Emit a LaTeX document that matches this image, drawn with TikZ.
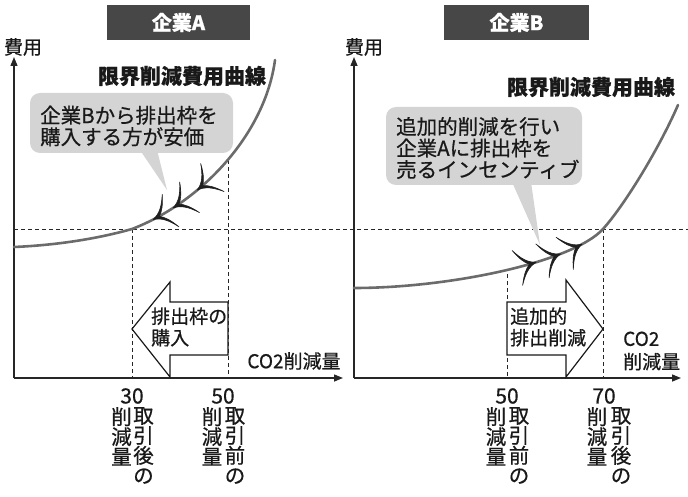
\documentclass[tikz,border=0pt]{standalone}
\usepackage{fontspec}
\setmainfont{Noto Sans CJK JP}[FakeBold=0.6]
\usetikzlibrary{arrows.meta,decorations.markings}
\begin{document}
\begin{tikzpicture}[x=1pt,y=-1pt,
  axis/.style={line width=1.4pt, draw=black!85, -{Triangle[length=9pt,width=7pt]}},
  guide/.style={dash pattern=on 4pt off 3pt, line width=0.9pt, draw=black!85},
  mac/.style={line width=2.6pt, draw=black!58, line cap=round},
  titlebox/.style={fill=black!72, text=white, font=\fontsize{20}{22}\selectfont\bfseries, minimum height=35pt, inner sep=0pt},
  curvelabel/.style={font=\fontsize{21}{22}\selectfont\bfseries, inner sep=0pt, text=black!90},
  callout/.style={fill=black!17, rounded corners=10pt, inner sep=0pt},
  calltext/.style={font=\fontsize{20.5}{21.5}\selectfont, align=left, inner sep=0pt, text=black!90},
  blockarrow/.style={line width=1.2pt, draw=black!90, fill=white, line join=miter},
  arrtext/.style={font=\fontsize{19}{21.5}\selectfont, align=left, inner sep=0pt, text=black!90},
  lbl/.style={font=\fontsize{19}{23}\selectfont, inner sep=0pt, text=black!90},
  ticklbl/.style={font=\fontsize{21}{21}\selectfont, inner sep=0pt, text=black!90},
  vcol/.style={font=\fontsize{20.5}{20}\selectfont, align=center, inner sep=0pt, anchor=north, text=black!90},
  barbfill/.style={fill=black!88, draw=black!88, line width=0.6pt, line join=round, scale=1.4}
]
\useasboundingbox (0,0) rectangle (688,497);
\def\barbfwd{\filldraw[barbfill] (0,0) .. controls (-6,1.5) and (-10,6) .. (-14,13)
   .. controls (-11,6) and (-8,2) .. (-5,0)
   .. controls (-8,-2) and (-11,-6) .. (-14,-13)
   .. controls (-10,-6) and (-6,-1.5) .. (0,0) -- cycle;}
\def\barbrev{\filldraw[barbfill] (0,0) .. controls (6,1.5) and (10,6) .. (14,13)
   .. controls (11,6) and (8,2) .. (5,0)
   .. controls (8,-2) and (11,-6) .. (14,-13)
   .. controls (10,-6) and (6,-1.5) .. (0,0) -- cycle;}

% titles
\node[titlebox, minimum width=143pt] (tA) at (178.5,22.5) {企業A};
\node[titlebox, minimum width=145pt] (tB) at (516.5,22.5) {企業B};

% coordinates
\coordinate (oA) at (14,378);  \coordinate (yA) at (14,57);  \coordinate (xA) at (343,378);
\coordinate (oB) at (354,378); \coordinate (yB) at (354,57); \coordinate (xB) at (681,378);
\coordinate (hL) at (14,229);  \coordinate (hR) at (688,229);
\coordinate (a30t) at (132,229); \coordinate (a30b) at (132,378);
\coordinate (a50t) at (228,160); \coordinate (a50b) at (228,378);
\coordinate (b50t) at (507,274); \coordinate (b50b) at (507,378);
\coordinate (b70t) at (603,229); \coordinate (b70b) at (603,378);

% dashed guides
\draw[guide] (hL) -- (hR);
\draw[guide] (a30t) -- (a30b);
\draw[guide] (a50t) -- (a50b);
\draw[guide] (b50t) -- (b50b);
\draw[guide] (b70t) -- (b70b);

% axes
\draw[axis] (oA) -- (yA);
\draw[axis] (oA) -- (xA);
\draw[axis] (oB) -- (yB);
\draw[axis] (oB) -- (xB);

% block arrows
\draw[blockarrow] (228,302) -- (170,302) -- (170,282) -- (132,329) -- (170,377) -- (170,355) -- (228,355) -- cycle;
\draw[blockarrow] (507,302) -- (566,302) -- (566,280) -- (603,329) -- (566,377) -- (566,355) -- (507,355) -- cycle;
\node[arrtext, anchor=west] (pA) at (151,327) {排出枠の\\購入};
\node[arrtext, anchor=west] (pB) at (510,327) {追加的\\排出削減};

% curves
\draw[mac] (14,247) .. controls (60,245) and (100,238) .. (132,229)
  .. controls (200,203) and (265,135) .. (275,60);
\path[decorate, decoration={markings,
   mark=at position 0.1 with {\barbrev},
   mark=at position 0.2 with {\barbrev},
   mark=at position 0.33 with {\barbrev}}]
  (132,229) .. controls (200,203) and (265,135) .. (275,60);

\draw[mac] (354,288) .. controls (450,288) and (573,262) .. (603,229)
  .. controls (623,207) and (658,151) .. (678,105);
\path[decorate, decoration={markings,
   mark=at position 0.71 with {\barbfwd},
   mark=at position 0.81 with {\barbfwd},
   mark=at position 0.9 with {\barbfwd}}]
  (354,288) .. controls (450,288) and (573,262) .. (603,229);

% callouts
\fill[black!17] (140,150) -- (157,150) -- (167,190) -- cycle;
\node[callout, minimum width=203pt, minimum height=60pt] (bA) at (131.5,123) {};
\node[calltext, anchor=west] (cA) at (40,126) {企業Bから排出枠を\\購入する方が安価};

\fill[black!17] (512,182) -- (531,182) -- (540,245) -- cycle;
\node[callout, minimum width=196pt, minimum height=78pt] (bB) at (484,146) {};
\node[calltext, anchor=west] (cB) at (396,148) {追加的削減を行い\\企業Aに排出枠を\\売るインセンティブ};

% labels
\node[curvelabel] (lA) at (182,76) {限界削減費用曲線};
\node[curvelabel] (lB) at (591,87) {限界削減費用曲線};
\node[lbl] (vA) at (23,47) {費用};
\node[lbl] (vB) at (364,47) {費用};
\node[lbl] (qA) at (294,361) {CO2削減量};
\node[lbl, align=left, anchor=west] (qB) at (623,351) {CO2\\削減量};

% ticks
\node[ticklbl] (n30) at (132,396) {30};
\node[ticklbl] (n50a) at (223,396) {50};
\node[ticklbl] (n50b) at (507,396) {50};
\node[ticklbl] (n70) at (604,396) {70};

\node[vcol] (c30l) at (121.5,407) {削\\減\\量};
\node[vcol] (c30r) at (143.5,407) {取\\引\\後\\の};
\node[vcol] (c50al) at (212,407) {削\\減\\量};
\node[vcol] (c50ar) at (235,407) {取\\引\\前\\の};
\node[vcol] (c50bl) at (496,407) {削\\減\\量};
\node[vcol] (c50br) at (519,407) {取\\引\\前\\の};
\node[vcol] (c70l) at (597,407) {削\\減\\量};
\node[vcol] (c70r) at (621,407) {取\\引\\後\\の};
\end{tikzpicture}
\end{document}
